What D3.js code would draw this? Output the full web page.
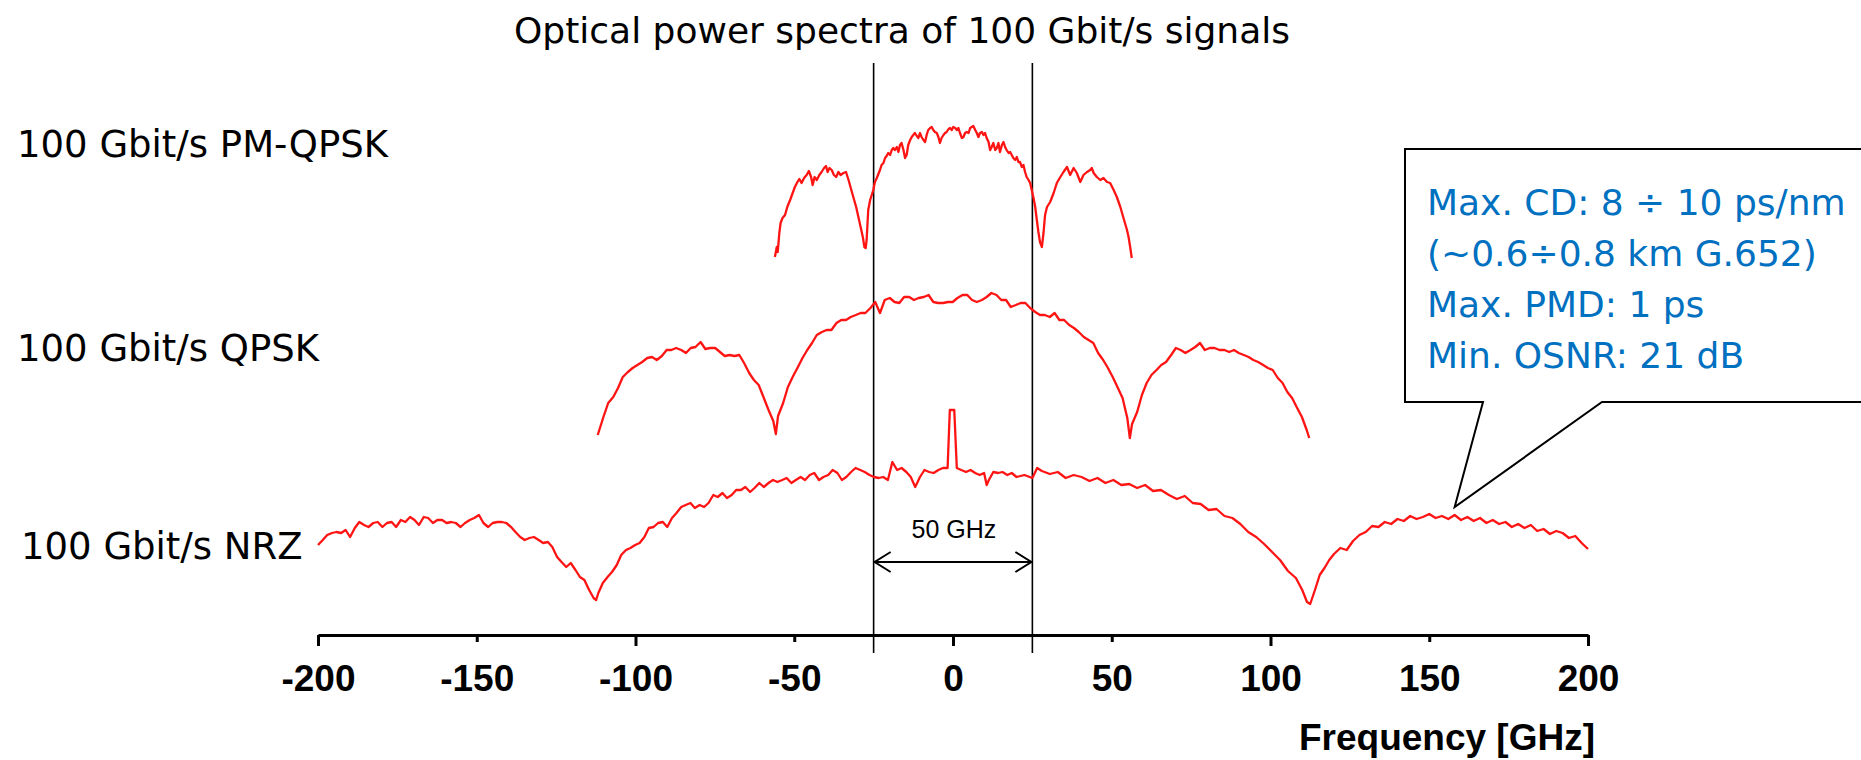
<!DOCTYPE html>
<html>
<head>
<meta charset="utf-8">
<script src="https://cdn.jsdelivr.net/npm/d3@7"></script>
<style>
  body { margin: 0; background: #fff; }
  svg { display: block; }
</style>
</head>
<body>
<div id="chart"></div>
<script>
// ---- data (frequency in GHz, level in arbitrary units) ----
const tickValues = [-200, -150, -100, -50, 0, 50, 100, 150, 200];
const tickLabels = ["-200", "-150", "-100", "-50", "0", "50", "100", "150", "200"];
const channelEdges = [-25, 25];

const traceNames = ["100 Gbit/s PM-QPSK", "100 Gbit/s QPSK", "100 Gbit/s NRZ"];

const pmqpskFreq = [
  // left side lobe
  -56.1, -55.5, -55.2, -54.7, -54.3, -53.7, -52.9, -52.2, -51.3, -50.5, -49.8, -49.0, -48.4, -47.7, -46.9, -46.1, -45.4, -44.7, -44.2, -43.6, -42.9, -42.1,
  -41.4, -40.6, -40.0, -39.5, -38.9, -38.2, -37.5, -36.8, -36.1, -35.4, -34.5, -33.7, -32.9, -32.2, -31.4, -30.5, -29.8, -29.1, -28.4, -27.9, -27.5, -27.2,
  // main lobe
  -26.7, -26.1, -25.6, -25.1, -24.6, -24.0, -23.5, -23.0, -22.5, -21.9, -21.4, -20.9, -20.4, -19.8, -19.3, -18.8, -18.3, -17.7, -17.2, -16.7,
  -16.2, -15.6, -15.1, -14.6, -14.1, -13.5, -13.0, -12.5, -12.0, -11.4, -10.9, -10.4, -9.9, -9.3, -8.8, -8.3, -7.8, -7.2, -6.7, -6.2,
  -5.7, -5.1, -4.6, -4.1, -3.6, -3.0, -2.5, -2.0, -1.4, -0.9, -0.4, 0.1, 0.7, 1.2, 1.7, 2.2, 2.8, 3.3, 3.8, 4.3,
  4.9, 5.4, 5.9, 6.4, 7.0, 7.5, 8.0, 8.5, 9.1, 9.6, 10.1, 10.6, 11.2, 11.7, 12.2, 12.7, 13.3, 13.8, 14.3, 14.8,
  15.4, 15.9, 16.4, 16.9, 17.5, 18.0, 18.5, 19.0, 19.6, 20.1, 20.6, 21.1, 21.7, 22.2, 22.7, 23.2, 23.8, 24.3, 24.8, 25.3,
  25.9, 26.4, 26.9, 27.4, 28.0,
  // right side lobe
  28.5, 29.0, 29.6, 30.6, 31.7, 32.7, 33.8, 34.8, 35.9, 36.9, 38.0, 39.0, 40.1, 41.1, 42.2, 43.2, 43.7, 44.3, 45.3, 46.4,
  47.4, 48.5, 49.5, 50.6, 51.6, 52.7, 53.7, 54.8, 55.3, 55.8, 56.3];
const pmqpskLevel = [
  37.7, 38.7, 38.2, 40.1, 41.1, 41.6, 41.9, 42.7, 43.4, 44.1, 44.7, 45.2, 45.5, 45.1, 45.6, 45.9, 46.3, 45.7, 44.9, 45.7, 45.4, 45.9,
  46.2, 46.6, 46.8, 46.2, 46.6, 46.4, 45.9, 45.7, 46.2, 45.9, 46.1, 46.2, 45.4, 44.6, 43.7, 42.7, 41.7, 40.7, 39.7, 38.7, 38.6, 39.4,
  42.4, 43.4, 43.9, 44.4, 45.2, 45.6, 46.0, 46.4, 46.9, 47.1, 47.6, 47.8, 48.1, 47.9, 48.4, 48.6, 48.4, 48.7, 48.2, 48.9,
  49.1, 48.4, 47.6, 47.9, 48.9, 49.4, 49.7, 49.9, 50.1, 49.8, 49.6, 50.1, 49.7, 49.4, 49.2, 49.9, 50.4, 50.6, 50.7, 50.4,
  50.2, 50.1, 49.7, 49.1, 49.6, 49.9, 50.1, 50.2, 50.5, 50.6, 50.4, 50.7, 50.6, 50.4, 50.6, 50.1, 49.6, 49.7, 50.1, 50.2,
  50.1, 50.6, 50.7, 50.8, 50.4, 50.1, 49.7, 50.1, 50.2, 49.9, 50.1, 49.6, 49.2, 48.4, 48.7, 49.1, 48.4, 48.6, 49.1, 48.2,
  48.9, 49.2, 48.7, 48.4, 48.1, 48.2, 47.9, 47.6, 47.4, 47.7, 47.2, 47.2, 46.7, 46.9, 46.2, 45.7, 45.4, 45.1, 44.4, 43.7,
  42.7, 41.4, 40.2, 39.2, 38.7,
  40.1, 41.9, 42.7, 43.2, 44.1, 45.1, 45.7, 46.2, 46.7, 45.9, 46.6, 46.1, 45.2, 45.9, 46.2, 46.4, 46.6, 46.1, 45.7, 45.4,
  45.6, 45.2, 45.1, 44.4, 43.7, 42.7, 41.6, 40.4, 39.7, 38.7, 37.6];

const qpskFreq = [-111.9,
  -111.6, -110.1, -108.6, -107.0, -105.5, -104.0, -102.4, -100.9, -99.4, -97.9, -96.3, -94.8, -93.3, -91.7, -90.2, -88.7, -87.2, -85.6, -84.1, -82.6,
  -81.1, -79.5, -78.0, -76.5, -74.9, -73.4, -71.9, -70.4, -68.8, -67.3, -65.8, -64.2, -62.7, -61.2, -59.7, -58.1, -56.6, -55.8, -55.1, -53.5,
  -52.0, -50.5, -49.0, -47.4, -45.9, -44.4, -42.9, -41.3, -39.8, -38.3, -36.7, -35.2, -33.7, -32.2, -30.6, -29.1, -27.6, -26.0, -24.5, -23.0,
  -21.5, -19.9, -18.4, -16.9, -15.4, -13.8, -12.3, -10.8, -9.2, -7.7, -6.2, -4.7, -3.1, -1.6, -0.1, 1.4, 3.0, 4.5, 6.0, 7.5,
  9.1, 10.6, 12.1, 13.7, 15.2, 16.7, 18.2, 19.8, 21.3, 22.8, 24.3, 25.9, 27.4, 28.9, 30.5, 32.0, 33.5, 35.0, 36.6, 38.1,
  39.6, 41.2, 42.7, 44.2, 45.7, 47.3, 48.8, 50.3, 51.8, 53.4, 54.9, 55.7, 56.4, 58.0, 59.5, 61.0, 62.5, 64.1, 65.6, 67.1,
  68.7, 70.2, 71.7, 73.2, 74.8, 76.3, 77.8, 79.3, 80.9, 82.4, 83.9, 85.5, 87.0, 88.5, 90.0, 91.6, 93.1, 94.6, 96.1, 97.7,
  99.2, 100.7, 102.3, 103.8, 105.3, 106.8, 108.4, 109.9, 111.4, 112.2];
const qpskLevel = [19.9,
  20.2, 21.7, 23.1, 23.7, 24.6, 25.7, 26.2, 26.6, 26.9, 27.2, 27.6, 27.7, 27.4, 27.8, 28.4, 28.4, 28.6, 28.4, 28.1, 28.6,
  28.7, 29.2, 28.5, 28.6, 28.6, 28.2, 27.8, 27.9, 27.8, 27.9, 27.1, 26.1, 25.4, 24.9, 23.7, 22.4, 21.3, 20.0, 21.8, 23.1,
  24.7, 25.7, 26.6, 27.6, 28.4, 29.1, 29.9, 30.2, 30.4, 30.4, 31.1, 31.4, 31.4, 31.7, 31.9, 32.1, 32.1, 32.6, 33.2, 32.1,
  33.4, 33.6, 33.2, 33.1, 33.7, 33.7, 33.4, 33.6, 33.7, 33.9, 33.2, 33.1, 33.1, 33.2, 33.2, 33.6, 33.9, 33.9, 33.4, 33.2,
  33.4, 33.7, 34.1, 33.9, 33.4, 33.4, 32.7, 32.9, 33.1, 33.1, 32.6, 32.2, 31.9, 31.9, 31.7, 32.1, 31.4, 31.4, 30.9, 30.6,
  30.2, 29.7, 29.4, 29.1, 28.1, 27.4, 26.6, 25.7, 24.7, 23.6, 21.6, 19.6, 21.0, 22.2, 23.9, 25.1, 25.9, 26.4, 26.9, 27.2,
  27.9, 28.6, 28.4, 28.1, 28.4, 28.7, 29.1, 28.4, 28.6, 28.6, 28.4, 28.4, 28.2, 28.4, 28.1, 27.9, 27.7, 27.4, 27.2, 26.9,
  26.6, 26.4, 25.6, 25.1, 24.2, 23.6, 22.6, 21.7, 20.4, 19.6];

const nrzFreq = [
  -200.0, -198.5, -197.1, -195.6, -194.2, -192.7, -191.3, -189.9, -188.4, -187.0,
  -185.5, -184.1, -182.6, -181.2, -179.7, -178.3, -176.8, -175.4, -173.9, -172.5,
  -171.0, -169.6, -168.2, -166.7, -165.3, -163.8, -162.4, -160.9, -159.5, -158.0,
  -156.6, -155.1, -153.7, -152.2, -150.8, -149.3, -147.9, -146.4, -145.0, -143.5,
  -142.1, -140.7, -139.2, -137.8, -136.3, -134.9, -133.4, -132.0, -130.5, -129.1,
  -127.6, -126.2, -124.7, -123.3, -121.8, -120.4, -118.9, -117.5, -116.1, -114.6,
  -113.2, -112.4, -111.7, -110.3, -108.8, -107.4, -105.9, -104.5, -103.0, -101.6, -100.1,
  -98.7, -97.2, -95.8, -94.3, -92.9, -91.4, -90.0, -88.5, -87.1, -85.6,
  -84.2, -82.7, -81.3, -79.8, -78.4, -77.0, -75.5, -74.1, -72.6, -71.2,
  -69.7, -68.3, -66.8, -65.4, -63.9, -62.5, -61.0, -59.6, -58.1, -56.7,
  -55.3, -53.8, -52.4, -50.9, -49.5, -48.0, -46.6, -45.1, -43.7, -42.2,
  -40.8, -39.3, -37.9, -36.4, -35.0, -33.6, -32.1, -30.7, -29.2, -27.8,
  -26.3, -24.9, -23.4, -22.0, -20.5, -19.1, -17.6, -16.2, -14.7, -13.3,
  -11.9, -10.4, -9.0, -7.5, -6.1, -4.6, -3.2, -1.7,
  -1.0, 0.4, 1.2,
  2.6, 4.1, 5.5, 7.0, 8.4, 9.8, 10.6, 11.3, 12.7, 14.2, 15.6, 17.1, 18.5, 20.0,
  22.5, 25, 26.5, 28, 30.5, 33, 35.5, 38, 40.5, 43, 45.5, 48, 50.5, 53, 55.5, 58, 60.5, 63, 65.5, 68,
  70.5, 73, 75.5, 78, 80.5, 83, 85.5, 88, 90.5, 93, 95.5, 98, 100.5, 103, 105.5, 108, 110, 111.5, 112.5, 114,
  115.5, 117, 118.5, 120, 122, 124, 126, 128, 130, 132, 134, 136, 138, 140, 142, 144, 146, 148, 150, 152,
  154, 156, 158, 160, 162, 164, 166, 168, 170, 172, 174, 176, 178, 180, 182, 184, 186, 188, 190, 192,
  194, 196, 198, 200];
const nrzLevel = [
  8.9, 9.4, 9.9, 10.1, 10.2, 10.1, 10.4, 9.7, 10.6, 11.2,
  10.9, 10.7, 11.1, 11.2, 10.7, 11.1, 11.2, 10.7, 11.4, 11.2,
  11.7, 11.4, 10.9, 11.7, 11.6, 11.1, 11.4, 11.4, 11.1, 11.2,
  11.1, 10.7, 11.1, 11.4, 11.6, 11.9, 11.1, 10.7, 11.1, 11.2,
  11.2, 11.1, 10.7, 10.2, 9.7, 9.4, 9.6, 9.7, 9.4, 9.1,
  9.2, 8.7, 7.7, 7.2, 6.7, 7.1, 6.4, 5.7, 5.4, 4.4,
  3.6, 3.4, 4.1, 5.1, 5.7, 6.2, 6.9, 7.9, 8.4, 8.6, 8.9,
  9.1, 9.7, 10.6, 10.7, 11.1, 11.2, 10.7, 11.6, 12.1, 12.7,
  12.9, 13.1, 12.6, 12.9, 12.7, 13.1, 13.9, 13.7, 14.1, 13.6,
  13.9, 14.4, 14.4, 14.7, 14.2, 14.6, 15.1, 14.7, 15.1, 15.4,
  15.2, 15.4, 15.6, 15.1, 15.4, 15.7, 15.4, 15.9, 16.1, 15.4,
  15.7, 15.9, 16.4, 16.1, 15.4, 15.7, 16.2, 16.6, 16.4, 16.2,
  15.9, 15.7, 15.6, 15.7, 15.4, 17.2, 16.4, 16.6, 16.2, 15.7,
  14.7, 15.7, 16.4, 16.2, 16.1, 16.4, 16.6, 16.6,
  22.4, 22.4, 16.6,
  16.4, 16.2, 16.4, 16.1, 15.9, 16.1, 14.9, 15.4, 16.2, 16.1, 16.2, 15.9, 16.1, 15.7,
  15.9, 15.6, 16.6, 16.3, 16.0, 16.2, 15.6, 15.9, 15.7, 15.3, 15.6, 15.1, 15.4, 14.9, 15.0, 14.6, 14.9, 14.3, 14.4, 13.9,
  13.5, 13.8, 13.1, 13.0, 12.4, 12.5, 11.8, 11.6, 11.0, 10.2, 9.7, 9.0, 8.2, 7.4, 6.3, 5.6, 4.4, 3.2, 3.0, 4.4,
  5.9, 6.6, 7.4, 8.0, 8.6, 8.4, 9.3, 9.9, 10.2, 10.8, 10.7, 11.2, 11.0, 11.5, 11.3, 11.8, 11.5, 11.7, 12.0, 11.6,
  11.8, 11.5, 11.9, 11.4, 11.7, 11.3, 11.6, 11.1, 11.4, 11.0, 11.2, 10.7, 11.0, 10.6, 10.9, 10.3, 10.5, 10.0, 10.3, 10.1,
  9.6, 9.8, 9.1, 8.5];

const calloutLines = ["Max. CD: 8 \u00f7 10 ps/nm", "(~0.6\u00f70.8 km G.652)", "Max. PMD: 1 ps", "Min. OSNR: 21 dB"];

// ---- layout ----
const width = 1861, height = 760;
const axisY = 635;

const svg = d3.select("#chart").append("svg")
  .attr("width", width)
  .attr("height", height);

const x = d3.scaleLinear().domain([-200, 200]).range([318, 1588]);
const y = d3.scaleLinear().domain([0, 57]).range([634, 64]);

// title
svg.append("text")
  .attr("x", 902).attr("y", 43)
  .attr("text-anchor", "middle")
  .attr("font-family", "DejaVu Sans")
  .attr("font-size", 36)
  .text("Optical power spectra of 100 Gbit/s signals");

// trace names on the left
const nameY = [157, 361, 559];
svg.selectAll("text.name").data(traceNames)
  .join("text")
  .attr("class", "name")
  .attr("x", (d, i) => i === 2 ? 21 : 17)
  .attr("y", (d, i) => nameY[i])
  .attr("font-family", "DejaVu Sans")
  .attr("font-size", 37)
  .text(d => d);

// channel edges at +-25 GHz
svg.selectAll("line.edge").data(channelEdges)
  .join("line")
  .attr("class", "edge")
  .attr("x1", d => x(d)).attr("x2", d => x(d))
  .attr("y1", 63).attr("y2", 653)
  .attr("stroke", "#000")
  .attr("stroke-width", 1.6);

// spectra
const traces = [
  { f: pmqpskFreq, v: pmqpskLevel },
  { f: qpskFreq, v: qpskLevel },
  { f: nrzFreq, v: nrzLevel }
];
const line = d3.line()
  .x(d => x(d[0]))
  .y(d => y(d[1]));

svg.selectAll("path.trace").data(traces)
  .join("path")
  .attr("class", "trace")
  .attr("d", t => line(d3.zip(t.f, t.v)))
  .attr("fill", "none")
  .attr("stroke", "#ff1414")
  .attr("stroke-width", 2.3)
  .attr("stroke-linejoin", "round");

// 50 GHz arrow
const arrowY = 562;
const ag = svg.append("g").attr("stroke", "#000").attr("stroke-width", 2).attr("fill", "none");
ag.append("line").attr("x1", x(-25)).attr("x2", x(25)).attr("y1", arrowY).attr("y2", arrowY);
ag.append("path").attr("d", `M${x(-25) + 17},${arrowY - 10}L${x(-25) + 1},${arrowY}L${x(-25) + 17},${arrowY + 10}`);
ag.append("path").attr("d", `M${x(25) - 17},${arrowY - 10}L${x(25) - 1},${arrowY}L${x(25) - 17},${arrowY + 10}`);
svg.append("text")
  .attr("x", x(0) + 1).attr("y", 538)
  .attr("text-anchor", "middle")
  .attr("font-family", "Liberation Sans")
  .attr("font-size", 25)
  .text("50 GHz");

// x axis
const xAxis = d3.axisBottom(x)
  .tickValues(tickValues)
  .tickFormat((d, i) => tickLabels[i])
  .tickSize(11)
  .tickSizeOuter(0);

const axisG = svg.append("g")
  .attr("transform", `translate(0,${axisY})`)
  .call(xAxis);
axisG.select(".domain").attr("stroke-width", 3.2);
axisG.selectAll(".tick line")
  .attr("stroke-width", 3)
  .attr("y2", d => d % 100 === 0 ? 11 : 7);
axisG.selectAll(".tick text")
  .attr("y", 56).attr("dy", 0)
  .attr("font-family", "Liberation Sans")
  .attr("font-weight", "bold")
  .attr("font-size", 37)
  .attr("fill", "#000");

svg.append("text")
  .attr("x", 1595).attr("y", 750)
  .attr("text-anchor", "end")
  .attr("font-family", "Liberation Sans")
  .attr("font-weight", "bold")
  .attr("font-size", 37)
  .text("Frequency [GHz]");

// callout box pointing at the NRZ side lobe
const tipX = x(158), tipY = 507;
const box = { left: 1405, top: 149, right: 1866, bottom: 402 };
svg.append("path")
  .attr("d", `M${box.left},${box.top}H${box.right}V${box.bottom}H1602L${tipX},${tipY}L1483,${box.bottom}H${box.left}Z`)
  .attr("fill", "#fff")
  .attr("stroke", "#000")
  .attr("stroke-width", 2);

svg.selectAll("text.callout").data(calloutLines)
  .join("text")
  .attr("class", "callout")
  .attr("x", 1427)
  .attr("y", (d, i) => 215 + i * 51)
  .attr("font-family", "DejaVu Sans")
  .attr("font-size", 36)
  .attr("fill", "#0070c0")
  .text(d => d);
</script>
</body>
</html>
